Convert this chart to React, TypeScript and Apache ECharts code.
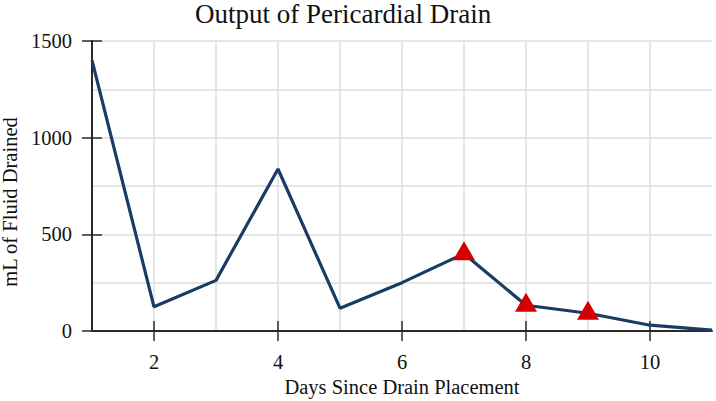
import React, { useEffect, useRef } from "react";
import * as echarts from "echarts";

const days = ["1", "2", "3", "4", "5", "6", "7", "8", "9", "10", "11"];
const drained = [1400, 125, 262, 838, 118, 250, 400, 133, 92, 30, 5];
const flaggedDays = ["7", "8", "9"];
const yTicks = [0, 1500, 500];

const FONT = "'Liberation Serif', 'Times New Roman', serif";
const AXIS_COLOR = "#2a2a2a";
const GRID_COLOR = "#dcdcdc";

export default function App() {
  const ref = useRef<HTMLDivElement>(null);

  useEffect(() => {
    document.body.style.margin = "0";
    const chart = echarts.init(ref.current!, null, { renderer: "svg" });
    const evenIdx = (i: number) => (i + 1) % 2 === 0;
    const textStyle = { fontFamily: FONT, fontSize: 20.5, color: "#111111" };
    chart.setOption({
      animation: false,
      backgroundColor: "#ffffff",
      title: {
        text: "Output of Pericardial Drain",
        left: 195,
        top: 0,
        padding: 0,
        textStyle: { fontFamily: FONT, fontSize: 27, fontWeight: "normal", color: "#111111" },
      },
      grid: { left: 92, right: 4, top: 41, bottom: 70, containLabel: false, outerBoundsMode: "none" },
      xAxis: [
        {
          type: "category",
          data: days,
          boundaryGap: false,
          position: "bottom",
          axisLine: { show: true, lineStyle: { color: AXIS_COLOR, width: 2 } },
          axisTick: { show: true, inside: false, length: 10, interval: evenIdx, lineStyle: { color: AXIS_COLOR, width: 1.5 } },
          axisLabel: { interval: evenIdx, margin: 20, ...textStyle },
          splitLine: { show: true, interval: (i: number) => i > 0 && i < days.length - 1, lineStyle: { color: GRID_COLOR, width: 1.5 } },
          name: "Days Since Drain Placement",
          nameLocation: "middle",
          nameGap: 43,
          nameTextStyle: { ...textStyle },
        },
        {
          type: "category",
          data: days,
          boundaryGap: false,
          position: "bottom",
          axisLine: { show: false },
          axisTick: { show: true, inside: true, length: 10, interval: evenIdx, lineStyle: { color: AXIS_COLOR, width: 1.5 } },
          axisLabel: { show: false },
          splitLine: { show: false },
        },
      ],
      yAxis: [
        {
          type: "value",
          min: yTicks[0],
          max: yTicks[1],
          interval: yTicks[2],
          axisLine: { show: true, lineStyle: { color: AXIS_COLOR, width: 2 } },
          axisTick: { show: true, inside: false, length: 10, lineStyle: { color: AXIS_COLOR, width: 1.5 } },
          axisLabel: { margin: 20, formatter: (v: number) => String(v), ...textStyle },
          splitLine: { show: true, lineStyle: { color: GRID_COLOR, width: 1.5 } },
          minorTick: { show: false, splitNumber: 2 },
          minorSplitLine: { show: true, lineStyle: { color: GRID_COLOR, width: 1.5 } },
          name: "mL of Fluid Drained",
          nameLocation: "middle",
          nameGap: 72,
          nameTextStyle: { ...textStyle, padding: [0, 32, 0, 0] },
        },
        {
          type: "value",
          min: yTicks[0],
          max: yTicks[1],
          interval: yTicks[2],
          position: "left",
          axisLine: { show: false },
          axisTick: { show: true, inside: true, length: 10, lineStyle: { color: AXIS_COLOR, width: 1.5 } },
          axisLabel: { show: false },
          splitLine: { show: false },
        },
      ],
      series: [
        {
          type: "line",
          data: drained,
          symbol: "none",
          lineStyle: { color: "#1a3c64", width: 3.2 },
          z: 3,
        },
        {
          type: "scatter",
          data: flaggedDays.map((d) => [d, drained[days.indexOf(d)]]),
          symbol: "triangle",
          symbolSize: [22, 19],
          symbolOffset: [0, -3],
          itemStyle: { color: "#d40000", opacity: 1 },
          z: 4,
        },
      ],
    });
    return () => chart.dispose();
  }, []);

  return <div ref={ref} style={{ width: 716, height: 401 }} />;
}
